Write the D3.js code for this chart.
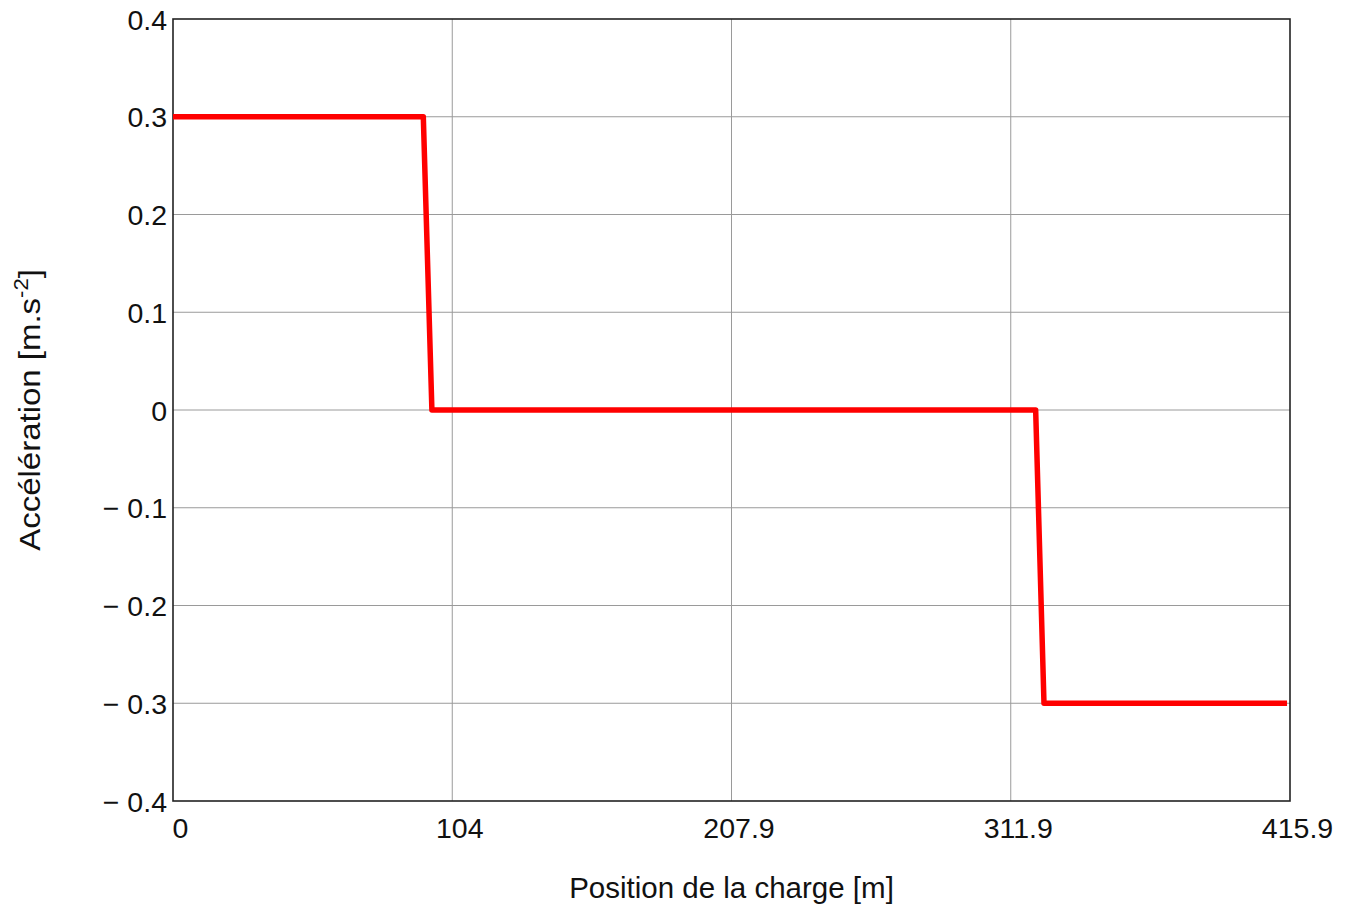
<!DOCTYPE html>
<html>
<head>
<meta charset="utf-8">
<script src="https://cdn.jsdelivr.net/npm/d3@7"></script>
<style>
  html, body { margin: 0; padding: 0; background: #fff; }
  svg { display: block; font-family: "Liberation Sans", Arial, sans-serif; }
</style>
</head>
<body>
<svg id="chart" width="1353" height="905"></svg>
<script>
// Acceleration profile of the load along its travel
const positions     = [0, 93.2, 96.4, 321.2, 324.3, 414.8];
const accelerations = [0.3, 0.3, 0, 0, -0.3, -0.3];

const xTicks      = [0, 103.975, 207.95, 311.925, 415.9];
const xTickLabels = ["0", "104", "207.9", "311.9", "415.9"];
const yTicks      = [-0.4, -0.3, -0.2, -0.1, 0, 0.1, 0.2, 0.3, 0.4];
const yTickLabels = ["\u2212 0.4", "\u2212 0.3", "\u2212 0.2", "\u2212 0.1", "0", "0.1", "0.2", "0.3", "0.4"];

const margin = { left: 173, right: 1290, top: 19, bottom: 801 };
const svg = d3.select("#chart");

const x = d3.scaleLinear().domain([0, 415.9]).range([margin.left, margin.right]);
const y = d3.scaleLinear().domain([-0.4, 0.4]).range([margin.bottom, margin.top]);

// grid
const grid = svg.append("g");
grid.selectAll("line.v").data(xTicks.slice(1, -1)).join("line")
  .attr("x1", d => x(d)).attr("x2", d => x(d))
  .attr("y1", margin.top).attr("y2", margin.bottom)
  .attr("stroke", "#9a9a9a").attr("stroke-width", 1);
grid.selectAll("line.h").data(yTicks.slice(1, -1)).join("line")
  .attr("y1", d => y(d)).attr("y2", d => y(d))
  .attr("x1", margin.left).attr("x2", margin.right)
  .attr("stroke", "#9a9a9a").attr("stroke-width", 1);

// frame
svg.append("rect")
  .attr("x", margin.left).attr("y", margin.top)
  .attr("width", margin.right - margin.left).attr("height", margin.bottom - margin.top)
  .attr("fill", "none").attr("stroke", "#222").attr("stroke-width", 1.6);

// step curve
const line = d3.line().x((d, i) => x(positions[i])).y((d, i) => y(accelerations[i]));
svg.append("path")
  .attr("d", line(positions))
  .attr("fill", "none").attr("stroke", "#ff0000")
  .attr("stroke-width", 5.5).attr("stroke-linejoin", "round").attr("stroke-linecap", "butt");

// tick labels
svg.append("g").selectAll("text").data(xTicks).join("text")
  .attr("x", d => x(d) + 7.5).attr("y", 838)
  .attr("text-anchor", "middle").attr("font-size", 28.5).attr("fill", "#111")
  .text((d, i) => xTickLabels[i]);

svg.append("g").selectAll("text").data(yTicks).join("text")
  .attr("x", 167).attr("y", d => y(d) + 10.5)
  .attr("text-anchor", "end").attr("font-size", 28.5).attr("fill", "#111")
  .text((d, i) => yTickLabels[i]);

// axis titles
svg.append("text")
  .attr("x", (margin.left + margin.right) / 2).attr("y", 898)
  .attr("text-anchor", "middle").attr("font-size", 29.5).attr("fill", "#111")
  .text("Position de la charge [m]");

const yt = svg.append("text")
  .attr("transform", `translate(40,${(margin.top + margin.bottom) / 2}) rotate(-90) scale(1.1,1)`)
  .attr("text-anchor", "middle").attr("font-size", 30).attr("fill", "#111");
yt.append("tspan").text("Accélération [m.s");
yt.append("tspan").attr("font-size", 20).attr("dy", -12).text("-2");
yt.append("tspan").attr("dy", 12).text("]");
</script>
</body>
</html>
